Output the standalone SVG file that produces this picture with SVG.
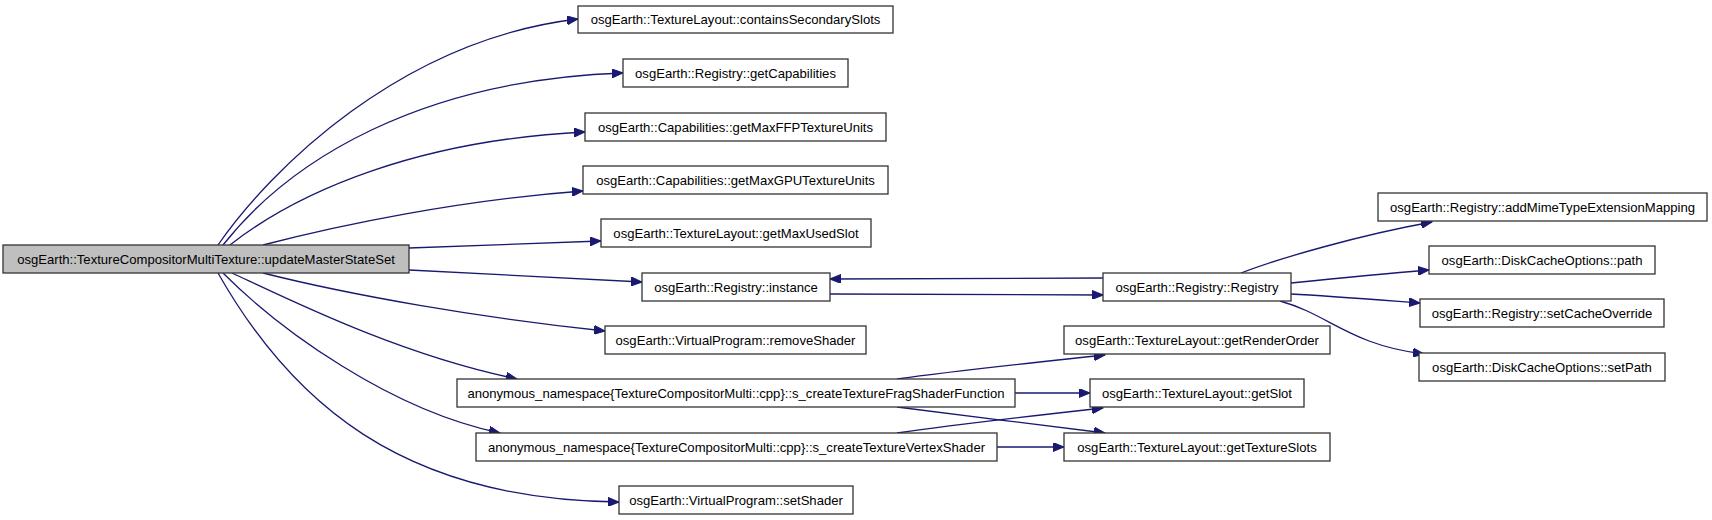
<svg xmlns="http://www.w3.org/2000/svg" width="1712" height="520" viewBox="0 0 1712 520">
<style>
.n rect{fill:#ffffff;stroke:#333333;stroke-width:1.3}
.n.root rect{fill:#bfbfbf}
.n text{font-family:"Liberation Sans",Arial,sans-serif;font-size:13.1px;fill:#000;text-anchor:middle}
.e path{fill:none;stroke:#191970;stroke-width:1.3;marker-end:url(#ah)}
</style>
<defs>
<marker id="ah" markerUnits="userSpaceOnUse" markerWidth="12" markerHeight="9" refX="11" refY="4.5" orient="auto">
<path d="M0,0 L11,4.5 L0,9 z" fill="#191970" stroke="#191970" stroke-width="1"/>
</marker>
</defs>
<rect width="1712" height="520" fill="#ffffff"/>
<g id="edges" class="e">
<path d="M218,245 C270,170 400,40 578,19"/>
<path d="M223,245 C290,160 420,80 623,73"/>
<path d="M230,245 C300,190 420,140 585,132"/>
<path d="M263,245 C340,225 460,200 583,191"/>
<path d="M409,248 L601,241"/>
<path d="M409,270 L642,282"/>
<path d="M263,273 C350,295 480,318 605,331"/>
<path d="M232,273 C290,300 400,355 517,379"/>
<path d="M223,273 C280,330 390,410 500,433"/>
<path d="M218,273 C290,400 400,500 619,502"/>
<path d="M830,294 L1103,295"/>
<path d="M1103,278 L830,279"/>
<path d="M1241,273 C1280,258 1360,235 1432,222"/>
<path d="M1291,283 C1330,279 1380,274 1429,270"/>
<path d="M1291,294 C1330,296 1380,300 1420,303"/>
<path d="M1280,301 C1330,315 1350,345 1424,354"/>
<path d="M897,379 C960,370 1040,362 1105,355"/>
<path d="M1015,393 L1090,393"/>
<path d="M897,407 C960,415 1040,425 1105,433"/>
<path d="M897,433 C960,424 1040,415 1103,408"/>
<path d="M997,447 L1064,447"/>
</g>
<g id="root" class="n root"><rect x="3" y="245" width="406" height="28"/><text x="206" y="264">osgEarth::TextureCompositorMultiTexture::updateMasterStateSet</text></g>
<g id="containsSecondarySlots" class="n"><rect x="578" y="6" width="315" height="27"/><text x="735.5" y="24">osgEarth::TextureLayout::containsSecondarySlots</text></g>
<g id="getCapabilities" class="n"><rect x="623" y="59" width="225" height="28"/><text x="735.5" y="78">osgEarth::Registry::getCapabilities</text></g>
<g id="getMaxFFPTextureUnits" class="n"><rect x="585" y="113" width="301" height="28"/><text x="735.5" y="132">osgEarth::Capabilities::getMaxFFPTextureUnits</text></g>
<g id="getMaxGPUTextureUnits" class="n"><rect x="583" y="166" width="305" height="28"/><text x="735.5" y="185">osgEarth::Capabilities::getMaxGPUTextureUnits</text></g>
<g id="getMaxUsedSlot" class="n"><rect x="601" y="219" width="270" height="28"/><text x="736" y="238">osgEarth::TextureLayout::getMaxUsedSlot</text></g>
<g id="instance" class="n"><rect x="642" y="273" width="188" height="28"/><text x="736" y="292">osgEarth::Registry::instance</text></g>
<g id="removeShader" class="n"><rect x="605" y="326" width="261" height="28"/><text x="735.5" y="345">osgEarth::VirtualProgram::removeShader</text></g>
<g id="fragShader" class="n"><rect x="457" y="379" width="558" height="28"/><text x="736" y="398">anonymous_namespace{TextureCompositorMulti::cpp}::s_createTextureFragShaderFunction</text></g>
<g id="vertexShader" class="n"><rect x="476" y="433" width="521" height="28"/><text x="736.5" y="452">anonymous_namespace{TextureCompositorMulti::cpp}::s_createTextureVertexShader</text></g>
<g id="setShader" class="n"><rect x="619" y="486" width="234" height="28"/><text x="736" y="505">osgEarth::VirtualProgram::setShader</text></g>
<g id="registry" class="n"><rect x="1103" y="273" width="188" height="28"/><text x="1197" y="292">osgEarth::Registry::Registry</text></g>
<g id="getRenderOrder" class="n"><rect x="1064" y="326" width="266" height="28"/><text x="1197" y="345">osgEarth::TextureLayout::getRenderOrder</text></g>
<g id="getSlot" class="n"><rect x="1090" y="379" width="214" height="28"/><text x="1197" y="398">osgEarth::TextureLayout::getSlot</text></g>
<g id="getTextureSlots" class="n"><rect x="1064" y="433" width="266" height="28"/><text x="1197" y="452">osgEarth::TextureLayout::getTextureSlots</text></g>
<g id="addMimeTypeExtensionMapping" class="n"><rect x="1378" y="193" width="329" height="28"/><text x="1542.5" y="212">osgEarth::Registry::addMimeTypeExtensionMapping</text></g>
<g id="path" class="n"><rect x="1429" y="246" width="226" height="28"/><text x="1542" y="265">osgEarth::DiskCacheOptions::path</text></g>
<g id="setCacheOverride" class="n"><rect x="1420" y="299" width="244" height="28"/><text x="1542" y="318">osgEarth::Registry::setCacheOverride</text></g>
<g id="setPath" class="n"><rect x="1419" y="353" width="246" height="28"/><text x="1542" y="372">osgEarth::DiskCacheOptions::setPath</text></g>
</svg>
